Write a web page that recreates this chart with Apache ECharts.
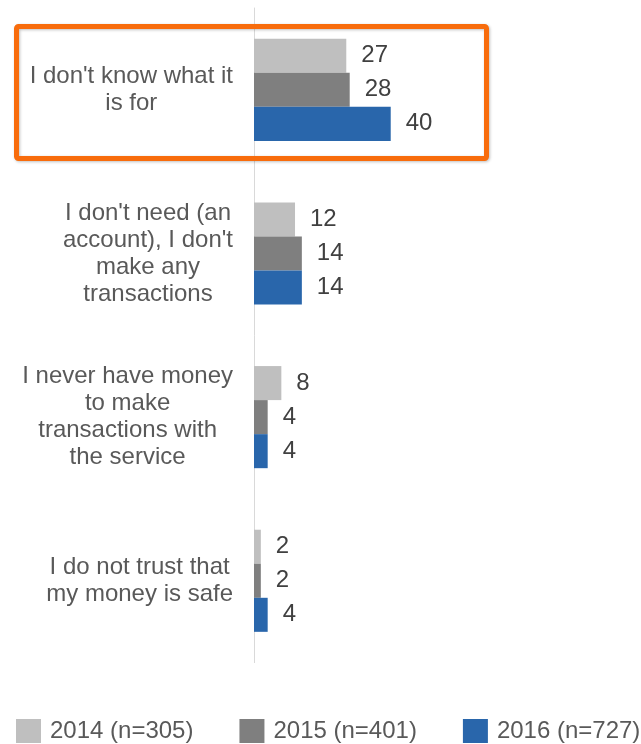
<!DOCTYPE html>
<html>
<head>
<meta charset="utf-8">
<script src="https://cdn.jsdelivr.net/npm/echarts@6/dist/echarts.min.js"></script>
<style>
html,body{margin:0;padding:0;background:#fff;}
#chart{width:641px;height:744px;}
</style>
</head>
<body>
<div id="chart"></div>
<script>
const categories = [
  "I don't know what it\nis for",
  "I don't need (an\naccount), I don't\nmake any\ntransactions",
  "I never have money\nto make\ntransactions with\nthe service",
  "I do not trust that\nmy money is safe"
];
const seriesNames = ["2014 (n=305)", "2015 (n=401)", "2016 (n=727)"];
const values2014 = [27, 12, 8, 2];
const values2015 = [28, 14, 4, 2];
const values2016 = [40, 14, 4, 4];
const colors = ["#BFBFBF", "#7F7F7F", "#2966AB"];

const FONT = "'Liberation Sans', Arial, sans-serif";
const FS = 24;
const chart = echarts.init(document.getElementById('chart'));

const allValues = [values2014, values2015, values2016];
const series = seriesNames.map((name, i) => ({
  name: name,
  type: 'bar',
  data: allValues[i],
  barGap: '0%',
  barCategoryGap: '37.6%',
  itemStyle: { color: colors[i] },
  label: {
    show: true,
    position: 'right',
    distance: 15,
    fontFamily: FONT,
    fontSize: FS,
    color: '#404040'
  },
  emphasis: { disabled: true }
}));

chart.setOption({
  animation: false,
  backgroundColor: '#fff',
  grid: { left: 254, top: 8, width: 170.9, height: 654.6, containLabel: false },
  xAxis: {
    type: 'value', min: 0, max: 50, show: false,
    splitLine: { show: false }
  },
  yAxis: {
    type: 'category',
    data: categories,
    inverse: true,
    axisLine: { show: true, lineStyle: { color: '#D9D9D9', width: 1 } },
    axisTick: { show: false },
    axisLabel: {
      margin: 21,
      align: 'right',
      fontFamily: FONT,
      fontSize: FS,
      lineHeight: 27,
      color: '#595959',
      formatter: function (v) {
        return v.split('\n').map(l => '{c|' + l + '}').join('\n');
      },
      rich: {
        c: { align: 'center', fontFamily: FONT, fontSize: FS, lineHeight: 27, color: '#595959' }
      }
    }
  },
  legend: {
    data: seriesNames,
    left: 16,
    top: 719,
    padding: 0,
    icon: 'rect',
    itemWidth: 25,
    itemHeight: 24,
    itemGap: 46,
    textStyle: { fontFamily: FONT, fontSize: FS, color: '#595959', padding: [0, 0, 0, 4] }
  },
  graphic: [{
    type: 'rect',
    z: 100,
    shape: { x: 16.5, y: 26.5, width: 470, height: 132, r: 2 },
    style: {
      fill: 'none',
      stroke: '#F86C0C',
      lineWidth: 5,
      shadowBlur: 3,
      shadowOffsetX: 1,
      shadowOffsetY: 1,
      shadowColor: 'rgba(0,0,0,0.25)'
    }
  }],
  series: series
});
</script>
</body>
</html>
